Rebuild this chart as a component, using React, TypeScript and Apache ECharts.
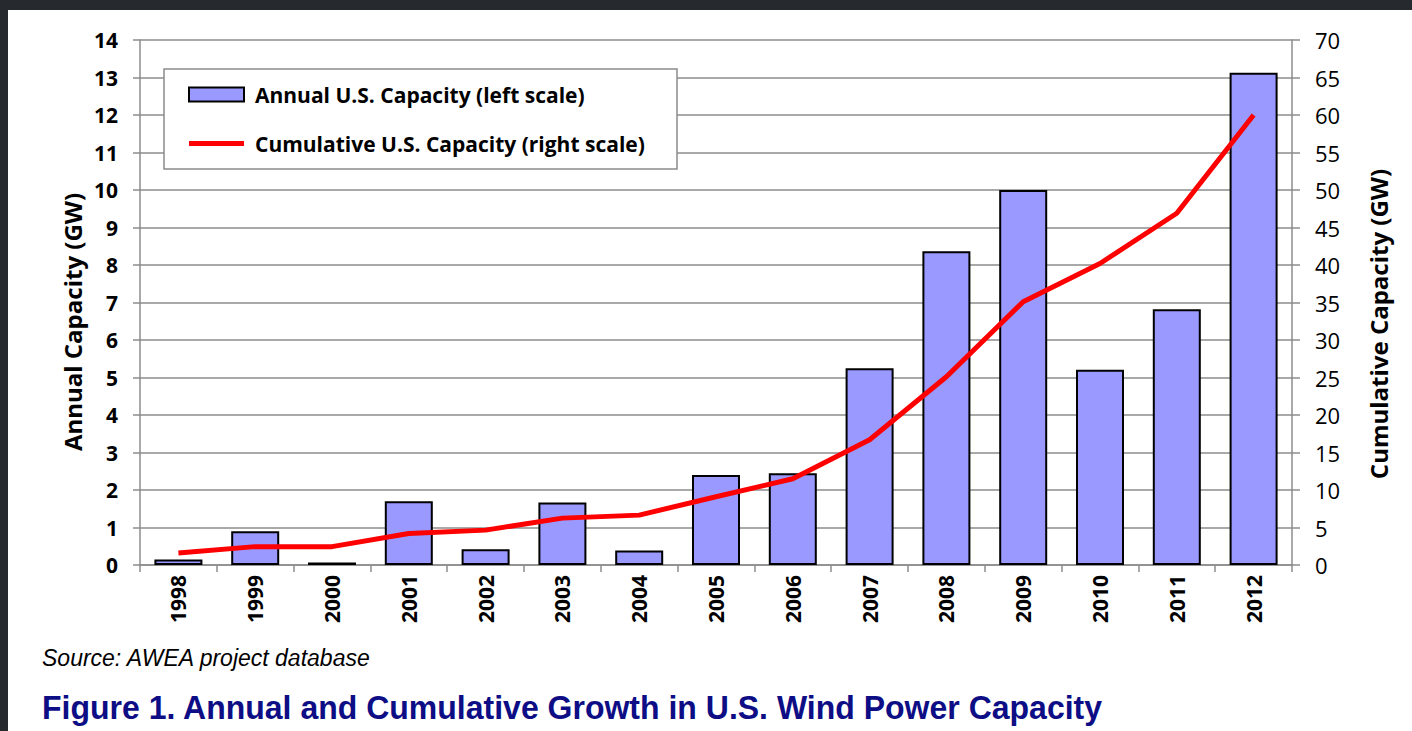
import React, { useEffect, useRef } from "react";
import * as echarts from "echarts";

const years = ["1998","1999","2000","2001","2002","2003","2004","2005","2006","2007","2008","2009","2010","2011","2012"];
const annualGW = [0.15, 0.9, 0.07, 1.7, 0.42, 1.67, 0.39, 2.4, 2.45, 5.25, 8.37, 10.0, 5.21, 6.82, 13.13];
const cumulativeGW = [1.6, 2.45, 2.45, 4.2, 4.65, 6.25, 6.65, 9.1, 11.5, 16.7, 25.1, 35.1, 40.2, 46.9, 60.0];
const annualName = "Annual U.S. Capacity (left scale)";
const cumulativeName = "Cumulative U.S. Capacity (right scale)";
const leftAxisName = "Annual Capacity (GW)";
const rightAxisName = "Cumulative Capacity (GW)";
const sourceText = "Source: AWEA project database";
const titleText = "Figure 1. Annual and Cumulative Growth in U.S. Wind Power Capacity";

const FONT = '"Open Sans", "Noto Sans", sans-serif';
const ARIAL = '"Liberation Sans", Arial, sans-serif';
const GRID_COLOR = "#8c8c8c";

export default function App() {
  const ref = useRef<HTMLDivElement>(null);
  useEffect(() => {
    document.body.style.margin = "0";
    if (!ref.current) return;
    const chart = echarts.init(ref.current, null, { renderer: "svg" });
    chart.setOption({
      animation: false,
      backgroundColor: "#ffffff",
      grid: { left: 140, right: 120, top: 40, bottom: 166, containLabel: false },
      legend: {
        left: 164,
        top: 69,
        orient: "vertical",
        itemGap: 24,
        itemWidth: 55,
        itemHeight: 14,
        padding: [13, 30, 14, 24],
        z: 5,
        textStyle: { fontFamily: FONT, fontWeight: "bold", fontSize: 21, color: "#000", lineHeight: 25, padding: [0, 0, 0, 6] },
        data: [
          { name: annualName, icon: "rect" },
          { name: cumulativeName, icon: "path://M0,0 L55,0 L55,5 L0,5 Z", itemStyle: { color: "#ff0000" } },
        ],
      },
      xAxis: {
        type: "category",
        data: years,
        boundaryGap: true,
        axisLine: { show: true, lineStyle: { color: GRID_COLOR, width: 1.5 } },
        axisTick: { show: true, length: 7, alignWithLabel: false, lineStyle: { color: GRID_COLOR, width: 1.5 } },
        axisLabel: { rotate: 90, margin: 10, fontFamily: FONT, fontWeight: "bold", fontSize: 21, color: "#000" },
      },
      yAxis: [
        {
          type: "value",
          min: 0,
          max: 14,
          interval: 1,
          position: "left",
          axisLine: { show: true, lineStyle: { color: GRID_COLOR, width: 1.5 } },
          axisTick: { show: true, length: 7, inside: false, lineStyle: { color: GRID_COLOR, width: 1.5 } },
          splitLine: { show: true, lineStyle: { color: GRID_COLOR, width: 1.5 } },
          axisLabel: { margin: 22, fontFamily: FONT, fontWeight: "bold", fontSize: 21, color: "#000" },
        },
        {
          type: "value",
          min: 0,
          max: 70,
          interval: 5,
          position: "right",
          axisLine: { show: true, lineStyle: { color: GRID_COLOR, width: 1.5 } },
          axisTick: { show: true, length: 8, inside: false, lineStyle: { color: GRID_COLOR, width: 1.5 } },
          splitLine: { show: false },
          axisLabel: { margin: 23, fontFamily: FONT, fontWeight: "normal", fontSize: 22, color: "#000" },
        },
      ],
      series: [
        {
          name: annualName,
          type: "bar",
          yAxisIndex: 0,
          data: annualGW,
          barWidth: 48,
          itemStyle: { color: "#9999ff", borderColor: "#000", borderWidth: 2 },
          z: 2,
        },
        {
          name: cumulativeName,
          type: "line",
          yAxisIndex: 1,
          data: cumulativeGW,
          symbol: "none",
          lineStyle: { color: "#ff0000", width: 5 },
          itemStyle: { color: "#ff0000" },
          z: 3,
        },
      ],
      graphic: [
        { type: "rect", left: 0, top: 0, shape: { width: 1412, height: 10 }, style: { fill: "#26292d" }, z: 10 },
        { type: "rect", left: 0, top: 0, shape: { width: 8, height: 731 }, style: { fill: "#26292d" }, z: 10 },
        {
          type: "rect",
          shape: { x: 164, y: 69, width: 513, height: 100 },
          style: { fill: "#fff", stroke: GRID_COLOR, lineWidth: 1.5 },
          z: 4,
        },
        {
          type: "text",
          x: 72,
          y: 322,
          rotation: Math.PI / 2,
          style: { text: leftAxisName, fontFamily: FONT, fontWeight: "bold", fontSize: 24, fill: "#000", align: "center", verticalAlign: "middle" },
        },
        {
          type: "text",
          x: 1378,
          y: 324,
          rotation: Math.PI / 2,
          style: { text: rightAxisName, fontFamily: FONT, fontWeight: "bold", fontSize: 24, fill: "#000", align: "center", verticalAlign: "middle" },
        },
        {
          type: "text",
          x: 42,
          y: 658,
          style: { text: sourceText, fontFamily: ARIAL, fontStyle: "italic", fontSize: 23, fill: "#000", align: "left", verticalAlign: "middle" },
        },
        {
          type: "text",
          x: 42,
          y: 708,
          scaleX: 0.97,
          style: { text: titleText, fontFamily: ARIAL, fontWeight: "bold", fontSize: 33, fill: "#0d0d85", align: "left", verticalAlign: "middle" },
        },
      ],
    });
    return () => chart.dispose();
  }, []);
  return <div ref={ref} style={{ width: 1412, height: 731 }} />;
}
